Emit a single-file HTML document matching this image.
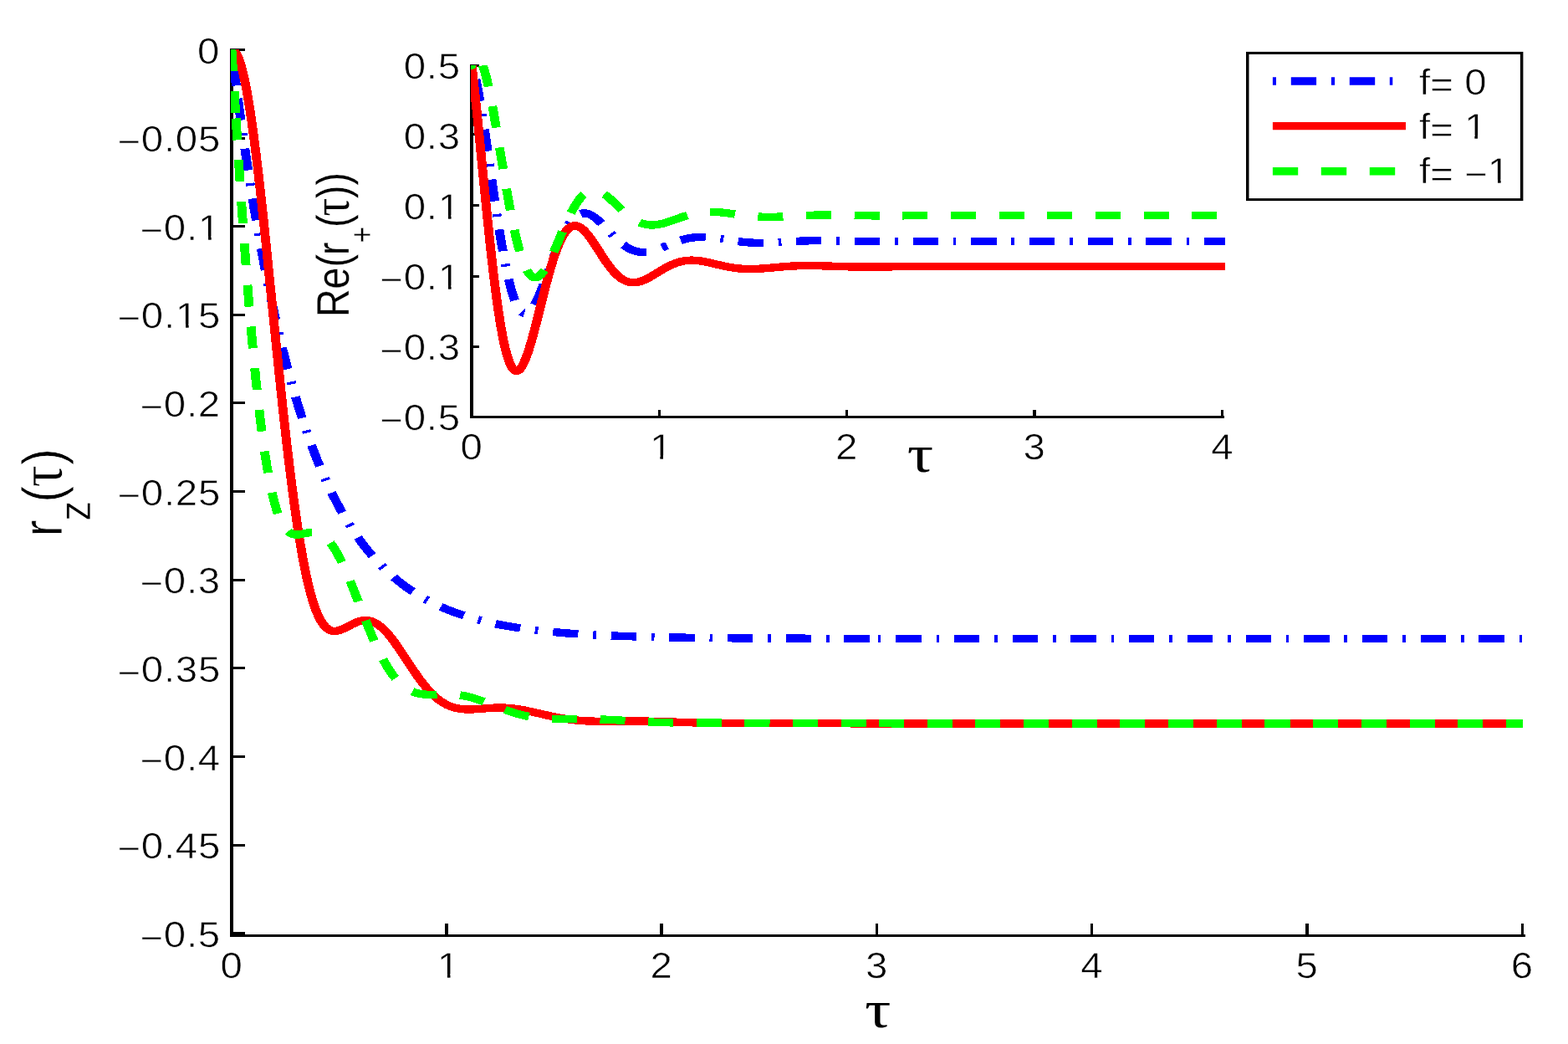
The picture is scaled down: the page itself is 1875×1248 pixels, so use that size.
<!DOCTYPE html>
<html lang="en"><head><meta charset="utf-8"><title>r_z(τ) and Re(r_+(τ)) for f = 0, 1, −1</title>
<style>html,body{margin:0;padding:0;background:#fff;overflow:hidden}svg{display:block}</style></head>
<body>
<svg width="1875" height="1248" viewBox="0 0 1875 1248" font-family="'Liberation Sans', Arial, Helvetica, sans-serif" fill="#000" text-rendering="geometricPrecision">
<rect width="1875" height="1248" fill="#fff"/>
<defs><clipPath id="cm"><rect x="276" y="59" width="1546" height="1058"/></clipPath><clipPath id="ci"><rect x="563" y="78" width="902" height="419"/></clipPath></defs>
<path id="main-axes" shape-rendering="crispEdges" d="M275,58H279V1120H275ZM275,1117H1824V1120H275ZM532,1104H536V1117H532ZM789,1104H793V1117H789ZM1047,1104H1050V1117H1047ZM1304,1104H1307V1117H1304ZM1561,1104H1565V1117H1561ZM1819,1104H1822V1117H1819ZM279,58H293V61H279ZM279,164H293V167H279ZM279,269H293V272H279ZM279,375H293V378H279ZM279,480H293V483H279ZM279,586H293V589H279ZM279,692H293V695H279ZM279,797H293V800H279ZM279,903H293V906H279ZM279,1009H293V1012H279ZM279,1114H293V1117H279Z"/>
<path id="inset-axes" shape-rendering="crispEdges" d="M562,77H566V500H562ZM562,497H1464V500H562ZM787,490H790V497H787ZM1011,490H1014V497H1011ZM1235,490H1239V497H1235ZM1460,490H1463V497H1460ZM566,77H573V80H566ZM566,159H573V162H566ZM566,244H573V247H566ZM566,329H573V332H566ZM566,413H573V416H566Z"/>
<g id="main-curves" clip-path="url(#cm)"><g transform="scale(1.156,1)" fill="none" stroke-width="9.4" stroke-linejoin="miter" stroke-miterlimit="10" shape-rendering="crispEdges">
<path stroke="#0000ff" stroke-dasharray="3.2 15.45 26.2 15.45" d="M239.62,59.4L243.94,99.21M243.94,99.21L247.59,131.11L251.29,161.92L255.07,191.75L258.9,220.51L262.8,248.36L266.78,275.22L270.82,301.1L274.93,326.07L279.13,350.12L283.4,373.26L287.77,395.55L292.21,416.92L296.74,437.45L301.37,457.18L306.1,476.1L310.93,494.21L315.83,511.41L318.32,519.74L320.86,527.94L323.44,535.99L326.02,543.77L328.65,551.42L331.27,558.79L333.95,566.03L336.66,573.13L339.42,580.08L342.18,586.78L344.99,593.33L347.84,599.74L350.73,606.01L353.67,612.12L356.65,618.09L359.63,623.81L362.7,629.48L365.78,634.91L368.89,640.2L372.05,645.34L375.26,650.34L378.55,655.25L381.85,659.95L385.23,664.57L388.66,669.03L392.13,673.35L395.65,677.52L399.21,681.55L402.86,685.49L406.56,689.28L409.85,692.5L413.23,695.66L416.62,698.68L420.09,701.65L423.61,704.51L427.17,707.27L430.82,709.97L434.51,712.57L438.25,715.07L442.08,717.51L446,719.87L449.96,722.14L454.01,724.33L458.11,726.44L462.29,728.47L466.52,730.41L470.84,732.28L475.25,734.08L479.75,735.8L484.38,737.48L489.05,739.06L493.86,740.6L498.76,742.06L503.74,743.45L508.86,744.78L514.12,746.06L519.5,747.28L524.98,748.43L530.63,749.53L536.42,750.58L548.44,752.51L560.24,754.12L572.66,755.56L585.82,756.85L599.84,757.99L614.54,758.97L630.57,759.84L647.6,760.59L666.3,761.23L685.67,761.74L707.04,762.17L730.42,762.52L756.8,762.81L819.92,763.18L908.13,763.38M908.13,763.38L1071.05,763.46L1574.98,763.47"/>
<path stroke="#ff0000" d="M239.62,59.4L240.25,59.5L240.88,59.74L241.5,60.14L242.12,60.69L242.75,61.39L243.37,62.25L244.61,64.41L245.84,67.2L247.07,70.57L248.3,74.6L249.54,79.25L250.77,84.52L252.02,90.45L253.28,97.06L254.53,104.28L255.8,112.16L257.09,120.79L259.71,140.06L262.1,159.65L264.57,181.66L267.15,206.37L269.89,234.21L272.51,262.1L275.4,294.08L286.73,423.6L291.71,478.82L294.42,507.68L296.99,533.92L299.48,558.1L301.88,580.32L304.76,605.3L307.59,627.91L310.39,648.42L313.15,666.68L315.91,683.03L317.29,690.48L318.72,697.68L320.14,704.39L321.57,710.6L322.99,716.33L324.42,721.58L326.51,728.48L328.6,734.43L329.67,737.11L330.74,739.57L331.81,741.81L332.92,743.91L334.03,745.79L335.15,747.46L336.3,748.97L337.46,750.28L338.66,751.42L339.87,752.36L341.11,753.13L342.36,753.7L343.34,754.03L344.36,754.25L345.39,754.38L346.46,754.4L347.57,754.31L348.68,754.13L349.84,753.85L351.04,753.47L353.18,752.59L355.54,751.4L357.9,750.06L364.44,746.15L366.49,745.03L368.31,744.12L370.41,743.22L372.37,742.54L374.28,742.04L376.11,741.74L378.2,741.62L380.29,741.75L382.34,742.14L384.34,742.77L386.34,743.64L388.39,744.8L390.44,746.22L392.53,747.93L394.14,749.41L395.78,751.08L397.43,752.9L399.12,754.92L400.86,757.13L402.59,759.48L406.29,764.88L409.49,769.94L413.1,775.95L425.66,797.87L430.73,806.46L433.4,810.79L435.94,814.73L438.39,818.36L440.75,821.67L443.37,825.15L445.96,828.32L448.49,831.2L451.03,833.83L453.57,836.21L456.11,838.35L458.69,840.27L461.27,841.95L463.45,843.18L465.68,844.27L467.95,845.21L470.26,846L472.62,846.66L475.07,847.18L477.61,847.57L480.28,847.83L484.55,847.98L489.36,847.86L494.04,847.54L506.99,846.41L511,846.17L514.74,846.05L518.79,846.05L522.8,846.19L526.8,846.5L530.81,846.95L533.93,847.4L537.18,847.96L544.03,849.38L551.02,851.1L565.36,854.92L571.68,856.53L578.47,858.09L584.81,859.34L592.16,860.5L595.84,860.96L599.84,861.38L607.52,861.94L615.87,862.24L626.56,862.3L653.27,862.01L666.63,862.1L681.66,862.49L710.71,863.63L724.07,864.06L738.77,864.36L755.13,864.49L805.22,864.47L862.33,864.77L893.05,864.83L1030.31,864.89L1574.98,864.9"/>
<path stroke="#00ff00" stroke-dasharray="26 23.9" d="M239.62,59.4L244.02,141.44M244.02,141.44L246.89,192.89L249.61,239.78L252.24,282.87L254.8,322.68L257.32,359.56L259.79,393.5L262.25,424.95L264.68,453.76L267.13,480.32L269.58,504.5L272.05,526.49L274.53,546.21L275.79,555.32L277.05,563.85L278.32,571.87L279.61,579.46L280.9,586.48L282.21,593.05L283.54,599.13L284.88,604.75L286.52,610.86L288.18,616.29L289.88,621.12L291.63,625.34L293.42,628.94L294.35,630.54L295.28,631.98L296.23,633.28L297.19,634.44L298.18,635.47L299.2,636.36L300.86,637.51L301.71,637.96L302.59,638.34L303.49,638.63L304.43,638.86L306.39,639.08L308.21,639.04L310.22,638.79L312.31,638.37L318.14,637.03L319.97,636.71L321.66,636.53L323.57,636.48L325.35,636.61L327.09,636.93L328.74,637.42L330.7,638.27L332.61,639.39L334.52,640.82L336.39,642.52L338.26,644.52L340.13,646.84L342,649.46L343.87,652.38L345.52,655.2L347.17,658.25L348.86,661.6L350.55,665.17L352.29,669.04L354.07,673.23L357.81,682.64L361.06,691.39L364.71,701.7L377.4,739.14L382.56,753.95L385.32,761.53L387.9,768.35L390.4,774.66L392.84,780.56L395.56,786.72L398.23,792.38L400.9,797.62L403.53,802.35L406.16,806.66L408.83,810.62L411.5,814.14L414.17,817.25L416.26,819.4L418.35,821.31L420.49,823.03L422.67,824.56L424.9,825.88L427.17,827.02L429.53,827.98L431.98,828.76L434.38,829.35L436.92,829.8L439.59,830.1L442.48,830.28L447.74,830.32L461.09,829.94L464.83,829.98L468.31,830.14L471.51,830.41L474.67,830.81L477.79,831.33L480.95,832L484.38,832.87L487.89,833.91L491.54,835.14L495.42,836.6L502.72,839.65L516.74,845.97L522.66,848.54L528.9,851.04L534.73,853.11L538.07,854.17L541.36,855.11L544.66,855.95L547.95,856.69L551.29,857.34L554.67,857.9L558.15,858.37L561.71,858.76L568.65,859.27L576.47,859.54L583.81,859.61L605.85,859.57L613.53,859.68L620.88,859.91L634.57,860.6L660.96,862.37L672.31,863.04L685,863.59L698.02,863.92L714.05,864.07L760.47,864.14L808.23,864.59L828.93,864.72L909.17,864.79M909.17,864.79L986.23,864.88L1574.98,864.9"/>
</g></g>
<g id="inset-curves" clip-path="url(#ci)"><g transform="scale(1.156,1)" fill="none" stroke-width="9.4" stroke-linejoin="miter" stroke-miterlimit="10" shape-rendering="crispEdges">
<path stroke="#0000ff" stroke-dasharray="3.2 15.45 26.2 15.45" d="M487.89,76.9L488.95,80.64L490.03,85.05L491.14,90.08L492.28,95.79L493.44,102.18L494.64,109.24L497.17,125.7L499.4,141.61L501.91,160.6L511.06,233.96L514.93,263.8L517,278.83L518.96,292.32L520.86,304.56L522.7,315.65L524.78,327.1L526.83,337.23L528.85,346.09L530.86,353.68L531.87,357.04L532.87,360.07L533.87,362.81L534.88,365.27L535.89,367.43L536.91,369.31L537.93,370.9L538.95,372.19L539.74,372.99L540.53,373.63L541.34,374.1L542.14,374.41L542.96,374.54L543.78,374.51L544.6,374.31L545.44,373.95L546.28,373.42L547.13,372.72L547.99,371.86L548.84,370.85L549.74,369.64L550.63,368.28L552.49,364.98L554.16,361.54L555.87,357.61L557.7,353.01L559.64,347.73L563.56,336.16L571.75,310.52L575.4,299.49L577.38,293.81L579.29,288.61L581.11,283.9L582.9,279.59L584.99,274.92L587.05,270.78L589.07,267.17L591.09,264.02L593.11,261.35L595.13,259.14L596.14,258.21L597.15,257.4L598.16,256.7L599.17,256.12L600.91,255.37L602.66,254.95L604.45,254.83L606.23,255.03L608.06,255.52L609.96,256.34L611.94,257.48L613.96,258.93L615.63,260.32L617.38,261.93L619.2,263.76L621.18,265.9L624.95,270.27L632.17,279.1L635.24,282.76L638.38,286.31L641.3,289.36L644.56,292.44L647.67,294.99L649.22,296.11L650.73,297.1L652.25,297.99L653.76,298.78L655.35,299.5L656.98,300.12L658.62,300.62L660.25,301L661.92,301.27L663.59,301.43L665.29,301.48L667,301.42L668.75,301.25L670.54,300.97L672.36,300.59L674.26,300.08L676.24,299.47L678.34,298.72L682.96,296.82M687.11,294.91L694.77,291.27L699.43,289.19L703.93,287.4L708.12,285.99L712.43,284.84L716.7,284.02L721.01,283.51L725.4,283.31L728.39,283.34L731.46,283.5L734.72,283.79L738.18,284.21L744.43,285.2L760.39,288.09L764.93,288.79L769.2,289.35L773.32,289.78L777.36,290.09L781.52,290.29L785.62,290.38L791.84,290.33L798.88,290.05L805.27,289.66L821.48,288.51L830.32,288.02L838.35,287.74L846.37,287.63L852.59,287.65L859.64,287.75L891.41,288.55L907.13,288.7L920.55,288.65L952.32,288.34L967.72,288.28L1028.31,288.45L1088.74,288.38L1270.18,288.4"/><path stroke="#0000ff" d="M684.78,296L689.97,293.55"/>
<path stroke="#ff0000" d="M487.89,76.65L490.28,100.92L492.96,130.23L495.58,160.34L502.65,243.38L506.74,288.99L508.91,311.6L510.97,331.91L512.97,350.2L514.91,366.56L517.25,384.32L518.41,392.26L519.56,399.63L520.71,406.38L521.85,412.51L522.99,418.12L524.13,423.12L525.27,427.59L526.42,431.49L527.56,434.83L528.72,437.64L529.88,439.9L531.05,441.6L531.63,442.25L532.22,442.77L532.82,443.16L533.42,443.42L534.15,443.54L534.88,443.47L535.63,443.2L536.38,442.73L537.14,442.06L537.89,441.2L538.67,440.13L539.45,438.87L540.23,437.41L541.04,435.73L542.67,431.79L544.36,427L546.12,421.31L547.56,416.23L549.08,410.48L552.38,396.86L555.52,382.89L563.71,345.37L566.08,334.97L568.26,325.84L570.59,316.62L572.8,308.48L574.98,301.15L577.07,294.75L579.13,289.16L581.19,284.27L583.25,280.09L584.26,278.31L585.27,276.7L586.27,275.26L587.28,274L588.29,272.91L589.34,271.95L590.39,271.17L591.44,270.57L592.49,270.14L593.54,269.88L595.01,269.79L596.53,270.01L598.08,270.57L599.63,271.43L601.22,272.61L602.89,274.15L604.64,276.05L606.43,278.28L607.9,280.31L609.42,282.54L612.76,287.92L615.94,293.45L624.21,308.26L626.62,312.39L628.79,315.96L631.12,319.56L633.34,322.73L635.51,325.59L637.61,328.08L639.67,330.26L641.69,332.13L643.7,333.73L645.72,335.06L647.74,336.11L649.76,336.9L651.82,337.44L653.92,337.72L655.43,337.76L656.95,337.67L658.5,337.46L660.05,337.13L661.64,336.67L663.31,336.07L665.06,335.33L666.85,334.46L669.84,332.79L673.18,330.69L676.4,328.5L684.67,322.71L689.25,319.7L691.58,318.29L693.8,317.05L695.97,315.93L698.07,314.95L700.09,314.12L702.1,313.38L704.12,312.76L706.1,312.25L708.08,311.84L710.1,311.52L712.16,311.3L714.22,311.19L717.25,311.2L720.39,311.41L723.69,311.82L727.27,312.46L730.26,313.11L733.63,313.94L745.13,317.06L749.71,318.24L754.25,319.27L758.52,320.09L762.52,320.7L766.48,321.15L770.48,321.43L774.56,321.56L780.7,321.49L787.58,321.08L793.97,320.5L810.18,318.81L819.02,318.08L826.88,317.67L834.74,317.51L840.97,317.54L848.01,317.7L870.61,318.59L879.45,318.87L887.15,319.03L895.01,319.09L908.44,319.02L939.88,318.56L955.27,318.47L1015.21,318.72L1075.14,318.62L1270.18,318.65"/>
<path stroke="#00ff00" stroke-dasharray="26 23.9" d="M499.25,78.13L500.27,81.44L501.31,85.28L502.38,89.64L503.48,94.54L505.75,105.95L508.19,119.77L510.35,133.17L512.78,149.11L521.72,211.01L525.53,236.36L527.56,249.18L529.5,260.7L531.36,271.14L533.17,280.62L535.23,290.48L537.26,299.21L539.27,306.85L541.26,313.41L542.26,316.32L543.25,318.95L544.24,321.32L545.24,323.46L546.24,325.34L547.25,326.98L548.26,328.37L549.27,329.51L550.05,330.22L550.86,330.8L551.64,331.22L552.45,331.5L553.27,331.64L554.08,331.63L554.9,331.47L555.75,331.16L556.61,330.71L557.46,330.11L558.32,329.37L559.21,328.46L560.1,327.41L561,326.22L562.86,323.35L564.53,320.36L566.24,316.94L568.06,312.93L570.01,308.33L573.93,298.27L582.12,275.95L585.81,266.25L587.79,261.31L589.69,256.78L591.52,252.68L593.26,248.99L595.36,244.91L597.42,241.28L599.44,238.12L601.46,235.36L603.44,233.05L605.42,231.15L607.4,229.64L608.41,229.03L609.42,228.52L611.09,227.9L612.8,227.54L614.54,227.45L616.29,227.64L618.08,228.1L619.9,228.83L621.8,229.85L623.75,231.13L625.34,232.34L627.01,233.75L628.75,235.35L630.62,237.18L634.15,240.9L643.94,251.64L646.97,254.76L649.72,257.4L652.79,260.08L655.74,262.35L658.62,264.26L661.49,265.84L664.44,267.13L665.92,267.64L667.39,268.07L668.87,268.41L670.38,268.68L671.89,268.86L673.41,268.95L676.52,268.91L679.78,268.54L683.19,267.85L686.85,266.82M686.85,266.82L689.72,265.85L692.9,264.65L703.62,260.23L707.74,258.61L711.7,257.19L715.38,256.03L720.01,254.84L724.55,253.99L729.13,253.46L733.79,253.23L736.82,253.24L739.93,253.37L743.19,253.62L746.72,253.99L753.05,254.87L769.01,257.4L773.55,258.01L777.78,258.5L781.85,258.87L785.78,259.13L789.71,259.3L793.8,259.38L800.03,259.33L806.91,259.1L829.5,257.75L838.35,257.32L846.21,257.08L854.07,256.98L867.33,257.09L898.77,257.78L914.33,257.92L927.76,257.87L959.2,257.6L974.43,257.55L1034.37,257.69L1094.3,257.64L1270.18,257.65"/>
<circle cx="487.89" cy="78.3" r="4.6" fill="#00ff00"/>
</g></g>
<g id="ticklabels"><g transform="translate(236.01,75.80) scale(1.0960,1)"><text font-size="43.25" letter-spacing="0.67" stroke="#fff" stroke-width="0.60">0</text></g><g transform="translate(140.43,180.80) scale(1.0960,1)"><text font-size="43.25" letter-spacing="0.67" stroke="#fff" stroke-width="0.60"><tspan dy="3.68">−</tspan><tspan dy="-3.68">0.05</tspan></text></g><g transform="translate(167.43,286.60) scale(1.0960,1)"><text font-size="43.25" letter-spacing="0.67" stroke="#fff" stroke-width="0.60"><tspan dy="3.68">−</tspan><tspan dy="-3.68">0.1</tspan></text><path fill="#fff" d="M64.60,-4.54H74.47V0.7H64.60ZM77.78,-4.54H87.62V0.7H77.78Z"/></g><g transform="translate(140.43,391.70) scale(1.0960,1)"><text font-size="43.25" letter-spacing="0.67" stroke="#fff" stroke-width="0.60"><tspan dy="3.68">−</tspan><tspan dy="-3.68">0.15</tspan></text><path fill="#fff" d="M64.60,-4.54H74.47V0.7H64.60ZM77.78,-4.54H87.62V0.7H77.78Z"/></g><g transform="translate(167.43,497.60) scale(1.0960,1)"><text font-size="43.25" letter-spacing="0.67" stroke="#fff" stroke-width="0.60"><tspan dy="3.68">−</tspan><tspan dy="-3.68">0.2</tspan></text></g><g transform="translate(140.43,603.60) scale(1.0960,1)"><text font-size="43.25" letter-spacing="0.67" stroke="#fff" stroke-width="0.60"><tspan dy="3.68">−</tspan><tspan dy="-3.68">0.25</tspan></text></g><g transform="translate(167.43,708.70) scale(1.0960,1)"><text font-size="43.25" letter-spacing="0.67" stroke="#fff" stroke-width="0.60"><tspan dy="3.68">−</tspan><tspan dy="-3.68">0.3</tspan></text></g><g transform="translate(140.43,814.90) scale(1.0960,1)"><text font-size="43.25" letter-spacing="0.67" stroke="#fff" stroke-width="0.60"><tspan dy="3.68">−</tspan><tspan dy="-3.68">0.35</tspan></text></g><g transform="translate(167.43,920.80) scale(1.0960,1)"><text font-size="43.25" letter-spacing="0.67" stroke="#fff" stroke-width="0.60"><tspan dy="3.68">−</tspan><tspan dy="-3.68">0.4</tspan></text></g><g transform="translate(140.43,1025.60) scale(1.0960,1)"><text font-size="43.25" letter-spacing="0.67" stroke="#fff" stroke-width="0.60"><tspan dy="3.68">−</tspan><tspan dy="-3.68">0.45</tspan></text></g><g transform="translate(167.43,1131.90) scale(1.0960,1)"><text font-size="43.25" letter-spacing="0.67" stroke="#fff" stroke-width="0.60"><tspan dy="3.68">−</tspan><tspan dy="-3.68">0.5</tspan></text></g><g transform="translate(263.60,1168.90) scale(1.0960,1)"><text font-size="43.25" letter-spacing="0.67" stroke="#fff" stroke-width="0.60">0</text></g><g transform="translate(522.66,1168.90) scale(1.0960,1)"><text font-size="43.25" letter-spacing="0.67" stroke="#fff" stroke-width="0.60">1</text><path fill="#fff" d="M1.27,-4.54H11.13V0.7H1.27ZM14.44,-4.54H24.29V0.7H14.44Z"/></g><g transform="translate(777.51,1168.90) scale(1.0960,1)"><text font-size="43.25" letter-spacing="0.67" stroke="#fff" stroke-width="0.60">2</text></g><g transform="translate(1035.11,1168.90) scale(1.0960,1)"><text font-size="43.25" letter-spacing="0.67" stroke="#fff" stroke-width="0.60">3</text></g><g transform="translate(1292.16,1168.90) scale(1.0960,1)"><text font-size="43.25" letter-spacing="0.67" stroke="#fff" stroke-width="0.60">4</text></g><g transform="translate(1549.49,1168.90) scale(1.0960,1)"><text font-size="43.25" letter-spacing="0.67" stroke="#fff" stroke-width="0.60">5</text></g><g transform="translate(1806.85,1168.90) scale(1.0960,1)"><text font-size="43.25" letter-spacing="0.67" stroke="#fff" stroke-width="0.60">6</text></g><g transform="translate(482.71,93.80) scale(1.0960,1)"><text font-size="43.25" letter-spacing="0.67" stroke="#fff" stroke-width="0.60">0.5</text></g><g transform="translate(482.71,177.80) scale(1.0960,1)"><text font-size="43.25" letter-spacing="0.67" stroke="#fff" stroke-width="0.60">0.3</text></g><g transform="translate(482.71,261.60) scale(1.0960,1)"><text font-size="43.25" letter-spacing="0.67" stroke="#fff" stroke-width="0.60">0.1</text><path fill="#fff" d="M38.68,-4.54H48.54V0.7H38.68ZM51.85,-4.54H61.70V0.7H51.85Z"/></g><g transform="translate(454.33,345.60) scale(1.0960,1)"><text font-size="43.25" letter-spacing="0.67" stroke="#fff" stroke-width="0.60"><tspan dy="3.68">−</tspan><tspan dy="-3.68">0.1</tspan></text><path fill="#fff" d="M64.60,-4.54H74.47V0.7H64.60ZM77.78,-4.54H87.62V0.7H77.78Z"/></g><g transform="translate(454.33,430.00) scale(1.0960,1)"><text font-size="43.25" letter-spacing="0.67" stroke="#fff" stroke-width="0.60"><tspan dy="3.68">−</tspan><tspan dy="-3.68">0.3</tspan></text></g><g transform="translate(454.33,513.55) scale(1.0960,1)"><text font-size="43.25" letter-spacing="0.67" stroke="#fff" stroke-width="0.60"><tspan dy="3.68">−</tspan><tspan dy="-3.68">0.5</tspan></text></g><g transform="translate(550.50,548.70) scale(1.0960,1)"><text font-size="43.25" letter-spacing="0.67" stroke="#fff" stroke-width="0.60">0</text></g><g transform="translate(777.16,548.70) scale(1.0960,1)"><text font-size="43.25" letter-spacing="0.67" stroke="#fff" stroke-width="0.60">1</text><path fill="#fff" d="M1.27,-4.54H11.13V0.7H1.27ZM14.44,-4.54H24.29V0.7H14.44Z"/></g><g transform="translate(999.01,548.70) scale(1.0960,1)"><text font-size="43.25" letter-spacing="0.67" stroke="#fff" stroke-width="0.60">2</text></g><g transform="translate(1223.61,548.70) scale(1.0960,1)"><text font-size="43.25" letter-spacing="0.67" stroke="#fff" stroke-width="0.60">3</text></g><g transform="translate(1448.16,548.70) scale(1.0960,1)"><text font-size="43.25" letter-spacing="0.67" stroke="#fff" stroke-width="0.60">4</text></g></g>
<g id="labels">
<g transform="translate(1033.88,1228.00) scale(1.2400,1)"><text font-size="63.00" font-family="'Liberation Serif', serif">τ</text></g><g transform="translate(1084.78,563.50) scale(1.2400,1)"><text font-size="63.00" font-family="'Liberation Serif', serif">τ</text></g>
<text transform="translate(74.00,641.50) rotate(-90) scale(1,1.1250)" font-size="60.00" stroke="#fff" stroke-width="0.70">r<tspan dx="-1.3" dy="30.2" font-size="48">z</tspan><tspan dx="-2" dy="-30.2">(</tspan><tspan dx="-1.6" font-family="'Liberation Serif', serif" font-size="66">τ</tspan>)</text>
<text transform="translate(417.00,379.00) rotate(-90) scale(1,1.1770)" font-size="46.50" stroke="#fff" stroke-width="0.20">Re(<tspan dx="-0.9">r</tspan><tspan dx="-0.8" dy="25" font-size="33">+</tspan><tspan dx="-1" dy="-25">(</tspan><tspan dx="-1.9" font-family="'Liberation Serif', serif" font-size="54">τ</tspan><tspan dx="-0.3">)</tspan><tspan dx="0.1">)</tspan></text>
</g>
<g id="legend">
<rect x="1490" y="61.9" width="331.4" height="178.2"/><rect x="1493.5" y="64.9" width="324.4" height="172.2" fill="#fff"/>
<path fill="#0000ff" d="M1521.9,92.3H1526V101.7H1521.9ZM1543.8,92.3H1574.1V101.7H1543.8ZM1591.9,92.3H1596.1V101.7H1591.9ZM1613.8,92.3H1644.2V101.7H1613.8ZM1661.8,92.3H1665.3V101.7H1661.8Z"/>
<path fill="#ff0000" d="M1521.9,145.9H1681V155.3H1521.9Z"/>
<path fill="#00ff00" d="M1521.9,200.1H1552.2V209.5H1521.9ZM1579.8,200.1H1610.2V209.5H1579.8ZM1637.8,200.1H1668.2V209.5H1637.8Z"/>
<g transform="translate(1697.12,112.60) scale(1.0960,1)"><text font-size="43.25" stroke="#fff" stroke-width="0.60">f<tspan dy="3.68">=</tspan><tspan dy="-3.68"> 0</tspan></text></g><g transform="translate(1697.12,166.00) scale(1.0960,1)"><text font-size="43.25" stroke="#fff" stroke-width="0.60">f<tspan dy="3.68">=</tspan><tspan dy="-3.68"> 1</tspan></text><path fill="#fff" d="M50.56,-4.54H60.42V0.7H50.56ZM63.73,-4.54H73.58V0.7H63.73Z"/></g><g transform="translate(1697.12,219.20) scale(1.0960,1)"><text font-size="43.25" stroke="#fff" stroke-width="0.60">f<tspan dy="3.68">=</tspan><tspan dy="-3.68"> </tspan><tspan dy="3.68">−</tspan><tspan dy="-3.68">1</tspan></text><path fill="#fff" d="M75.81,-4.54H85.68V0.7H75.81ZM88.99,-4.54H98.83V0.7H88.99Z"/></g>
</g>
</svg>
</body></html>
